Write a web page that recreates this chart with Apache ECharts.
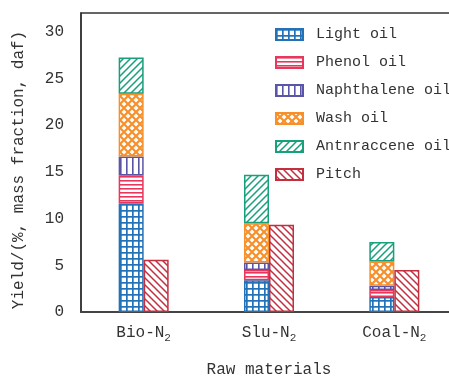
<!DOCTYPE html>
<html><head><meta charset="utf-8">
<script src="https://cdn.jsdelivr.net/npm/echarts@6/dist/echarts.min.js"></script>
<style>html,body{margin:0;padding:0;background:#fff}#c{width:449px;height:380px}</style>
</head><body><div id="c"></div>
<script>
var categories = ['Bio-N2', 'Slu-N2', 'Coal-N2'];
var seriesNames = ['Light oil', 'Phenol oil', 'Naphthalene oil', 'Wash oil', 'Antnraccene oil', 'Pitch'];
var lightOil = [11.6, 3.4, 1.6];
var phenolOil = [3.0, 1.1, 0.75];
var naphthaleneOil = [2.05, 0.8, 0.45];
var washOil = [6.7, 4.2, 2.6];
var anthraceneOil = [3.9, 5.2, 2.1];
var pitch = [5.6, 9.35, 4.5];
var yTicks = [0, 5, 10, 15, 20, 25, 30];

var FONT = "'Liberation Mono', 'Courier New', monospace";
var colors = ['#2372b8', '#e8375c', '#5a55a6', '#f7902a', '#189f7c', '#c22f3f'];

function tile(w, h, draw) {
  var c = document.createElement('canvas');
  c.width = w; c.height = h;
  var g = c.getContext('2d');
  g.fillStyle = '#fff'; g.fillRect(0, 0, w, h);
  draw(g);
  return { image: c, repeat: 'repeat' };
}
var patterns = [
  tile(6, 6, function (g) { g.fillStyle = colors[0]; g.fillRect(0, 0, 6, 1.7); g.fillRect(0, 0, 1.7, 6); }),
  tile(4, 4, function (g) { g.fillStyle = colors[1]; g.fillRect(0, 0, 4, 1.6); }),
  tile(6, 6, function (g) { g.fillStyle = colors[2]; g.fillRect(0, 0, 1.6, 6); }),
  tile(8, 8, function (g) {
    g.strokeStyle = colors[3]; g.lineWidth = 2.2;
    g.beginPath(); g.moveTo(-2, -2); g.lineTo(10, 10); g.moveTo(-2, 10); g.lineTo(10, -2); g.stroke();
  }),
  tile(7, 7, function (g) {
    g.strokeStyle = colors[4]; g.lineWidth = 1.5;
    g.beginPath(); g.moveTo(-1, 8); g.lineTo(8, -1); g.moveTo(-1, 1); g.lineTo(1, -1); g.moveTo(6, 8); g.lineTo(8, 6); g.stroke();
  }),
  tile(7, 7, function (g) {
    g.strokeStyle = colors[5]; g.lineWidth = 1.5;
    g.beginPath(); g.moveTo(-1, -1); g.lineTo(8, 8); g.moveTo(6, -1); g.lineTo(8, 1); g.moveTo(-1, 6); g.lineTo(1, 8); g.stroke();
  })
];

var dataArr = [lightOil, phenolOil, naphthaleneOil, washOil, anthraceneOil, pitch];
var series = seriesNames.map(function (n, i) {
  return {
    name: n, type: 'bar', stack: i < 5 ? 'oil' : 'pitch',
    barWidth: 25, barGap: '0%',
    data: dataArr[i],
    itemStyle: { color: patterns[i], borderColor: colors[i], borderWidth: 1.5 }
  };
});

var chart = echarts.init(document.getElementById('c'), null, { renderer: 'canvas' });
chart.setOption({
  backgroundColor: '#fff',
  animation: false,
  textStyle: { fontFamily: FONT },
  grid: { left: 81, top: 13, width: 376, height: 299, outerBoundsMode: 'none', containLabel: false, show: true, borderColor: '#333', borderWidth: 1.5, backgroundColor: 'transparent' },
  legend: {
    orient: 'vertical', left: 270, top: 22, icon: 'rect',
    itemWidth: 27, itemHeight: 11, itemGap: 13,
    textStyle: { fontFamily: FONT, fontSize: 15, color: '#333', padding: [0, 0, 0, 8] },
    data: seriesNames
  },
  xAxis: {
    type: 'category', data: categories,
    name: 'Raw materials', nameLocation: 'middle', nameGap: 50,
    nameTextStyle: { fontFamily: FONT, fontSize: 16, color: '#333' },
    axisLine: { lineStyle: { color: '#444', width: 2 } },
    axisTick: { inside: true, alignWithLabel: true, length: 4, lineStyle: { color: '#444' } },
    axisLabel: {
      interval: 0, margin: 9, color: '#333', fontFamily: FONT, fontSize: 16,
      formatter: function (v) { return v.replace(/N2$/, 'N{sub|2}'); },
      rich: { sub: { fontFamily: FONT, fontSize: 11, color: '#333', padding: [12, 0, 0, 0] } }
    }
  },
  yAxis: {
    type: 'value', min: 0, max: 32, interval: 5,
    name: 'Yield/(%, mass fraction, daf)', nameLocation: 'middle', nameGap: 54,
    nameTextStyle: { fontFamily: FONT, fontSize: 16, color: '#333', padding: [0, 15, 0, 0] },
    axisLine: { show: true, lineStyle: { color: '#333', width: 1.5 } },
    axisTick: { inside: true, length: 4, lineStyle: { color: '#333' } },
    splitLine: { show: false },
    axisLabel: {
      margin: 17, color: '#333', fontFamily: FONT, fontSize: 16,
      formatter: function (v) { return yTicks.indexOf(v) >= 0 ? String(v) : ''; }
    }
  },
  series: series
});
</script></body></html>
